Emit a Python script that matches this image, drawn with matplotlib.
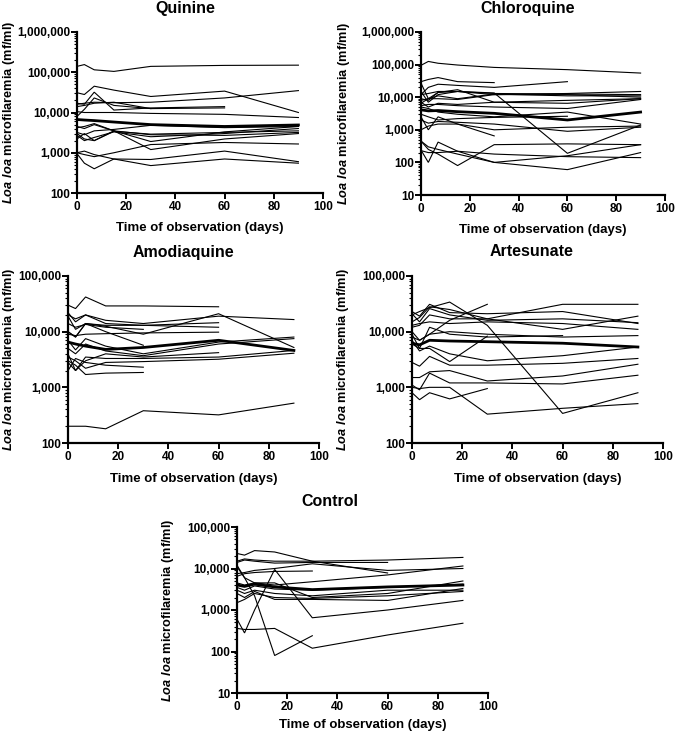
import numpy as np
import matplotlib
matplotlib.use("Agg")
import matplotlib.pyplot as plt
from matplotlib.ticker import FuncFormatter, LogLocator, NullFormatter

plt.rcParams["font.family"] = ["Liberation Sans", "DejaVu Sans"]
plt.rcParams["mathtext.fontset"] = "custom"
plt.rcParams["mathtext.rm"] = "Liberation Sans:bold"
plt.rcParams["mathtext.bfit"] = "Liberation Sans:bold:italic"

nan = np.nan
DAYS = [0, 3, 7, 15, 30, 60, 90]

# ---- Quinine ----
Q_MEAN = [6700, 6500, 6300, 5800, 5000, 4500, 4900]
Q_LINES = [
    [140000, 155000, 115000, 105000, 140000, 148000, 150000],
    [31000, 28000, 45000, 36000, 25000, 34000, 10000],
    [16000, 17000, 18000, 17500, 18000, 23000, 35000],
    [10500, 10000, 10000, 10000, 9500, 9000, 7500],
    [17000, 16000, 32000, 11500, 13000, 14000, nan],
    [14000, 15000, 17000, 18000, 12500, 13000, nan],
    [8000, 12000, 23000, 15000, 12500, nan, nan],
    [4500, 4000, 5000, 3500, 1900, 3300, 4500],
    [3000, 2200, 2000, 3500, 1200, 2200, 3000],
    [1000, 900, 800, 1000, 1600, 1800, 1650],
    [950, 550, 400, 700, 680, 1100, 600],
    [1000, 1100, 900, 700, 480, 700, 550],
    [4200, 4500, 5300, 3500, 2800, 2700, 3200],
    [2700, 2000, 2400, 3300, 2500, 3000, 4000],
    [2200, 3000, 2000, 3400, 2900, 3200, 3500],
    [3200, 2800, 3500, 3800, 4800, 4200, 4500],
]

# ---- Chloroquine ----
C_MEAN = [4100, 3800, 3900, 3600, 3200, 2000, 3500]
C_LINES = [
    [95000, 125000, 110000, 97000, 82000, 70000, 55000],
    [30000, 35000, 40000, 30000, 28000, nan, nan],
    [12000, 20000, 25000, 23000, 20000, 30000, nan],
    [9000, 8000, 14000, 15000, 13500, 190, 1400],
    [450, 300, 250, 180, 100, 60, 200],
    [240, 100, 420, 220, 100, 160, 350],
    [450, 250, 180, 80, 350, 370, 350],
    [230, 200, 200, 220, 180, 150, 140],
    [8000, 9000, 11000, 9000, 12500, 11000, 11000],
    [15000, 7000, 12000, 15000, 13000, 12500, 12000],
    [6500, 9000, 14000, 17000, 7000, 8000, 9000],
    [5500, 6000, 6000, 5500, 5000, 4500, 8500],
    [2500, 1000, 2500, 1500, 650, nan, nan],
    [1000, 1300, 1500, 1500, 1000, 1200, 1300],
    [3000, 2500, 2000, 2200, 2400, 2600, nan],
    [2000, 1600, 1800, 1700, 1500, 900, 1200],
    [7000, 5000, 6500, 6000, 7000, 6500, 9000],
    [12000, 13000, 15000, 15000, 12000, 13000, 15000],
    [27000, 9000, 9000, 8500, 12000, 12000, 10000],
    [5000, 4500, 3500, 3000, 2500, 3500, 1500],
]

# ---- Amodiaquine ----
A_MEAN = [6500, 6000, 5500, 4800, 5200, 7000, 4600]
A_LINES = [
    [30000, 26000, 42000, 29000, 29000, 28000, nan],
    [10000, 8000, 14000, 12500, 9000, 21000, 5200],
    [20000, 17000, 20000, 16000, 14000, 19000, 16500],
    [22000, 15000, 20000, 14000, 13000, 14500, nan],
    [19000, 11000, 14000, 13000, 13000, 12000, nan],
    [9000, 8500, 9000, 9200, 9500, 9800, nan],
    [14000, 12000, 13500, 12000, 11000, nan, nan],
    [10000, 8000, 14000, 10000, 5700, nan, nan],
    [7000, 4700, 7500, 5500, 4000, 6500, 8000],
    [5000, 4000, 6000, 4500, 3700, 6000, 7500],
    [4000, 2000, 3500, 3300, 3300, 3500, 4600],
    [3500, 3000, 2200, 2800, 2900, 3200, 4100],
    [3000, 2500, 1700, 1800, 1850, nan, nan],
    [2000, 3300, 2800, 2500, 2300, nan, nan],
    [2800, 2000, 3000, 4000, 3500, 4200, nan],
    [200, 200, 200, 180, 380, 320, 520],
]

# ---- Artesunate ----
R_MEAN = [6200, 5800, 7000, 6800, 6600, 6200, 5300]
R_LINES = [
    [12000, 13000, 20000, 17000, 17000, 31000, 31000],
    [8000, 7000, 9000, 16000, 31000, nan, nan],
    [20000, 23000, 27000, 34000, 13000, 340, 800],
    [15000, 18000, 28000, 25000, 17000, 11000, 19000],
    [23000, 19000, 31000, 22000, 21000, 23000, 14000],
    [21000, 15000, 26000, 20000, 16000, 17000, 14500],
    [13000, 14000, 15000, 14000, 15000, 14000, 11000],
    [6000, 5000, 12000, 9000, 8000, 8500, nan],
    [9000, 5000, 5000, 2900, 8300, nan, nan],
    [7000, 4500, 5500, 4000, 3000, 3700, 5300],
    [2800, 2400, 3600, 2500, 2500, 2700, 3300],
    [1500, 1500, 1900, 2000, 1300, 1600, 2600],
    [1100, 900, 1800, 1200, 1200, 1150, 1650],
    [1000, 950, 1000, 1000, 330, 420, 510],
    [800, 600, 800, 620, 950, nan, nan],
    [10000, 7000, 9000, 10000, 9000, 8000, 8500],
]

# ---- Control ----
K_MEAN = [4000, 3700, 4200, 3600, 3100, 3600, 4000]
K_LINES = [
    [23000, 21000, 27000, 25000, 15000, 7800, nan],
    [15000, 17000, 16000, 15000, 15000, 16000, 18500],
    [14000, 16000, 15000, 13500, 14000, 14000, nan],
    [12000, 6000, 2200, 80, 240, nan, nan],
    [600, 280, 1000, 9500, 650, 1000, 1700],
    [360, 340, 340, 360, 120, 250, 480],
    [6500, 7500, 8000, 8500, 8700, nan, nan],
    [7500, 8000, 9000, 10000, 13000, 9000, 10000],
    [11000, 6000, 4500, 4000, 4800, 7000, 11500],
    [4500, 4000, 4500, 4500, 2000, 2500, 5000],
    [3000, 2500, 3000, 2500, 2200, 3000, 3000],
    [2500, 2000, 2800, 1800, 1800, 1700, 3300],
    [1500, 1800, 2500, 2000, 1900, 2200, 2800],
    [3500, 3000, 3800, 3200, 3000, 3500, 4200],
]

# panel: title, lines, mean, ylim, axes rect (px: left, top, right, bottom),
# title centre (px), y-label centre x (px), x-label pad
PANELS = [
    ("Quinine", Q_LINES, Q_MEAN, (100, 1e6), (77, 32, 323, 193), (185, 8), 9, 6),
    ("Chloroquine", C_LINES, C_MEAN, (10, 1e6), (421, 32, 665, 195), (528, 8), 344, 6),
    ("Amodiaquine", A_LINES, A_MEAN, (100, 1e5), (68, 276, 319, 443), (183, 252), 9, 7),
    ("Artesunate", R_LINES, R_MEAN, (100, 1e5), (412, 276, 663, 443), (532, 252), 343, 7),
    ("Control", K_LINES, K_MEAN, (10, 1e5), (237, 527, 488, 693), (330, 502), 168, 4),
]

W, H = 675, 733
fig = plt.figure(figsize=(W / 100, H / 100), dpi=100)

comma = FuncFormatter(lambda v, p: f"{int(round(v)):,}")

for title, lines, mean, ylim, (l, t, r, b), (tx, ty), ylx, xpad in PANELS:
    ax = fig.add_axes([l / W, 1 - b / H, (r - l) / W, (b - t) / H])
    for ln in lines:
        ax.plot(DAYS, ln, color="black", lw=0.8, solid_joinstyle="miter")
    ax.plot(DAYS, mean, color="black", lw=2.0)
    ax.set_yscale("log")
    ax.set_ylim(*ylim)
    ax.set_xlim(0, 100)
    ax.set_xticks([0, 20, 40, 60, 80, 100])
    ax.yaxis.set_major_locator(LogLocator(base=10))
    ax.yaxis.set_minor_locator(LogLocator(base=10, subs=np.arange(2, 10)))
    ax.yaxis.set_major_formatter(comma)
    ax.yaxis.set_minor_formatter(NullFormatter())
    for s in ("top", "right"):
        ax.spines[s].set_visible(False)
    for s in ("left", "bottom"):
        ax.spines[s].set_linewidth(1.6)
    ax.tick_params(which="major", direction="out", length=4, width=1.4,
                   labelsize=8.5, pad=1)
    ax.tick_params(axis="x", which="major", pad=2)
    ax.tick_params(which="minor", direction="out", length=2, width=0.8)
    for lab in ax.get_xticklabels() + ax.get_yticklabels():
        lab.set_fontweight("bold")
    ax.set_xlabel("Time of observation (days)", fontsize=9.5, fontweight="bold",
                  labelpad=xpad)
    ax.set_ylabel(r"$\mathbfit{Loa\ loa}$ microfilaremia (mf/ml)", fontsize=9.2,
                  fontweight="bold", va="center")
    ax.yaxis.set_label_coords((ylx - l) / (r - l), 0.5)
    fig.text(tx / W, 1 - ty / H, title, ha="center", va="center",
             fontsize=11.5, fontweight="bold")

fig.savefig("out.png", dpi=100)
